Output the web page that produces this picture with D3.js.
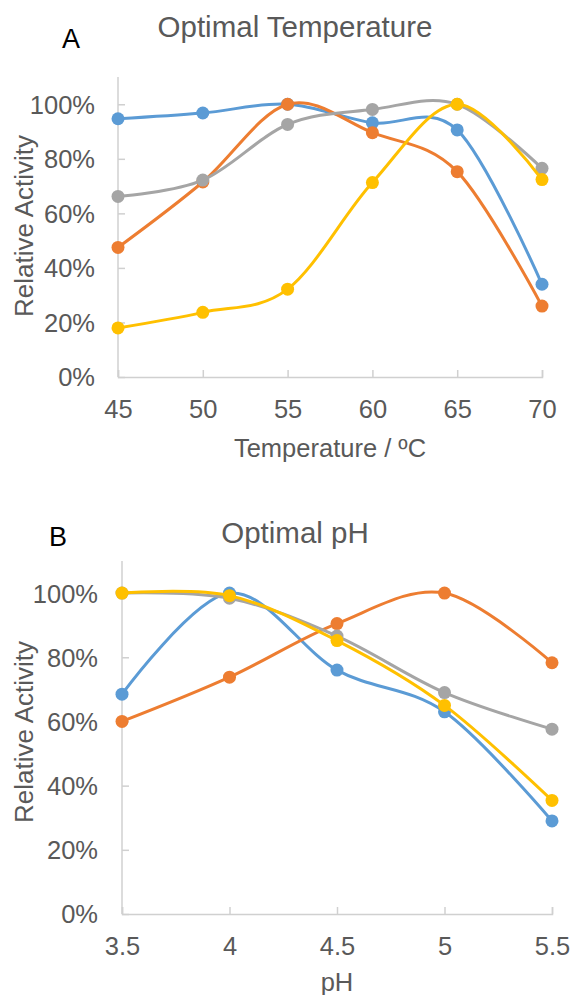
<!DOCTYPE html>
<html>
<head>
<meta charset="utf-8">
<script src="https://cdn.jsdelivr.net/npm/d3@7"></script>
<style>
  body { margin: 0; background: #fff; }
  svg text { font-family: "Liberation Sans", Arial, sans-serif; }
</style>
</head>
<body>
<svg id="chart" width="571" height="995"></svg>
<script>
// panel A - temperature
const temps = [45, 50, 55, 60, 65, 70];
const tempBlue   = [94.7, 96.8, 100, 93.2, 90.6, 34];
const tempOrange = [47.5, 71.5, 100, 89.6, 75.3, 26];
const tempGray   = [66.2, 72.2, 92.6, 98.1, 100, 76.5];
const tempYellow = [18, 23.7, 32.2, 71.3, 100, 72.4];

// panel B - pH
const phs = [3.5, 4, 4.5, 5, 5.5];
const phBlue   = [68.5, 100, 76, 63, 29];
const phOrange = [60, 73.8, 90.5, 100, 78.3];
const phGray   = [100, 98.4, 86.6, 69, 57.6];
const phYellow = [100, 99.2, 85.2, 65, 35.4];

const yTicks = [0, 20, 40, 60, 80, 100];
const colors = ["#5B9BD5", "#ED7D31", "#A5A5A5", "#FFC000"];

const svg = d3.select("#chart");

function panel(opts) {
  const x = d3.scaleLinear().domain(opts.xDomain).range([opts.left, opts.right]);
  const y = d3.scaleLinear().domain([0, 110]).range([opts.bottom, opts.top]);
  const g = svg.append("g");

  // axes
  const xAxis = d3.axisBottom(x).tickValues(opts.xs).tickSize(-7).tickPadding(23)
    .tickFormat(d => String(d));
  const gx = g.append("g").attr("transform", `translate(0,${opts.bottom})`).call(xAxis);
  gx.select(".domain").attr("stroke", "#d0d0d0").attr("stroke-width", 1.5);
  gx.selectAll(".tick line").attr("stroke", "#d0d0d0").attr("stroke-width", 1.5);
  gx.selectAll("text").attr("fill", "#595959").style("font-size", "25.5px")
    .attr("y", 23).attr("dy", "0.71em");

  const yAxis = d3.axisLeft(y).tickValues(yTicks).tickSize(-7).tickPadding(opts.yPad)
    .tickFormat(d => d + "%");
  const gy = g.append("g").attr("transform", `translate(${opts.left},0)`).call(yAxis);
  gy.select(".domain").attr("stroke", "#d0d0d0").attr("stroke-width", 1.5)
    .attr("d", `M0,${opts.top}V${opts.bottom}`);
  gy.selectAll(".tick line").attr("stroke", "#d0d0d0").attr("stroke-width", 1.5);
  gy.selectAll("text").attr("fill", "#595959").style("font-size", "25.5px")
    .attr("x", -opts.yPad).attr("dy", "0.35em");

  // titles
  g.append("text").attr("x", 295).attr("y", opts.titleY)
    .attr("text-anchor", "middle").attr("fill", "#595959")
    .style("font-size", "29.5px").text(opts.title);
  g.append("text").attr("x", opts.letterX).attr("y", opts.letterY)
    .attr("fill", "#000").style("font-size", "27px").text(opts.letter);
  g.append("text").attr("x", (opts.left + opts.right) / 2).attr("y", opts.xTitleY)
    .attr("text-anchor", "middle").attr("fill", "#595959")
    .style("font-size", "25.5px").text(opts.xTitle);
  g.append("text")
    .attr("transform", `translate(33,${opts.yTitleY}) rotate(-90)`)
    .attr("text-anchor", "middle").attr("fill", "#595959")
    .style("font-size", "26px").text("Relative Activity");

  // series
  const line = d3.line().x(d => x(d[0])).y(d => y(d[1])).curve(d3.curveCardinal.tension(0));
  opts.series.forEach((vals, i) => {
    const pts = opts.xs.map((v, j) => [v, vals[j]]);
    g.append("path").datum(pts).attr("d", line)
      .attr("fill", "none").attr("stroke", colors[i]).attr("stroke-width", 3);
    g.selectAll(null).data(pts).enter().append("circle")
      .attr("cx", d => x(d[0])).attr("cy", d => y(d[1])).attr("r", 6.5)
      .attr("fill", colors[i]);
  });
}

panel({
  xs: temps, xDomain: [45, 70], left: 118, right: 542, top: 77, bottom: 377,
  series: [tempBlue, tempOrange, tempGray, tempYellow], yPad: 23,
  title: "Optimal Temperature", titleY: 37, letter: "A", letterX: 62, letterY: 48,
  xTitle: "Temperature / ºC", xTitleY: 457, yTitleY: 226
});

panel({
  xs: phs, xDomain: [3.5, 5.5], left: 122, right: 552, top: 561, bottom: 914,
  series: [phBlue, phOrange, phGray, phYellow], yPad: 24,
  title: "Optimal pH", titleY: 543, letter: "B", letterX: 49, letterY: 546,
  xTitle: "pH", xTitleY: 991, yTitleY: 732
});
</script>
</body>
</html>
